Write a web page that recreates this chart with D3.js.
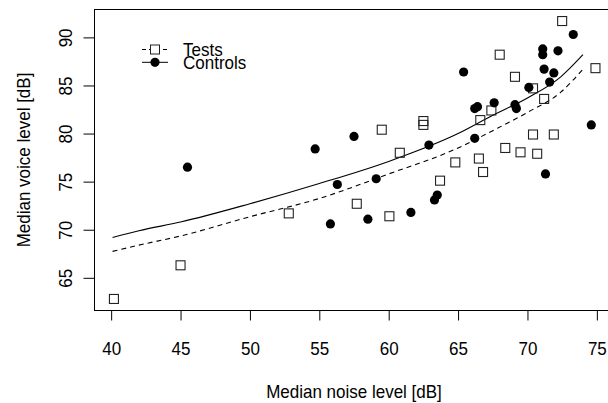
<html><head><meta charset="UTF-8">
<style>
  body { margin: 0; background: white; font-family: "Liberation Sans", Arial, Helvetica, sans-serif; }
  svg { display: block; }
  text { font-family: "Liberation Sans", Arial, Helvetica, sans-serif; fill: black; }
</style>
</head>
<body>
<svg id="chart"></svg>
<script src="https://cdn.jsdelivr.net/npm/d3@7"></script>
<script>
  // data
  var testsNoise = [40.2, 45.0, 52.8, 60.05, 57.7, 59.5, 62.5, 62.5, 60.8, 64.8, 63.7, 66.6, 67.4,
                    71.2, 70.4, 69.1, 68.0, 72.5, 74.9, 70.4, 71.9, 68.4, 69.5, 70.7, 66.5, 66.8];
  var testsVoice = [62.8, 66.3, 71.7, 71.4, 72.7, 80.4, 81.3, 80.9, 78.0, 77.0, 75.1, 81.4, 82.4,
                    83.6, 84.7, 85.9, 88.2, 91.7, 86.8, 79.9, 79.9, 78.5, 78.05, 77.9, 77.4, 76.0];

  var controlsNoise = [45.5, 54.7, 55.8, 57.5, 56.3, 59.1, 62.9, 58.5, 61.6, 63.3, 63.5, 65.4, 66.2, 66.4,
                       67.6, 66.2, 69.1, 69.2, 70.1, 71.1, 71.1, 72.2, 73.3, 71.2, 71.9, 71.6, 74.6, 71.3];
  var controlsVoice = [76.5, 78.4, 70.6, 79.7, 74.7, 75.3, 78.8, 71.1, 71.8, 73.1, 73.6, 86.4, 82.6, 82.8,
                       83.2, 79.5, 83.0, 82.6, 84.8, 88.8, 88.2, 88.6, 90.3, 86.7, 86.3, 85.35, 80.9, 75.8];

  // fitted curves
  var fitNoise    = [40.1, 42, 45, 50, 55, 60, 65, 67.5, 70, 72.4, 74];
  var fitControls = [69.2, 69.9, 70.8, 72.7, 74.8, 77.1, 80.0, 81.9, 83.7, 85.9, 88.2];
  var fitTests    = [67.75, 68.4, 69.35, 71.35, 73.25, 75.8, 78.5, 80.3, 82.2, 84.3, 86.7];

  var xTicks = [40, 45, 50, 55, 60, 65, 70, 75];
  var yTicks = [65, 70, 75, 80, 85, 90];
  var legendLabels = ["Tests", "Controls"];

  var width = 608, height = 403;
  var plot = {left: 94.5, top: 9.5, right: 613.5, bottom: 310.5};
  var stretch = "scale(1,1.1)"; // glyphs in the reference are a bit taller

  var svg = d3.select("#chart").attr("width", width).attr("height", height);

  var xScale = d3.scaleLinear().domain([38.8, 76.2]).range([plot.left, plot.right]);
  var yScale = d3.scaleLinear().domain([61.6, 92.9]).range([plot.bottom, plot.top]);

  // box
  svg.append("rect")
    .attr("x", plot.left).attr("y", plot.top)
    .attr("width", plot.right - plot.left).attr("height", plot.bottom - plot.top)
    .attr("fill", "none").attr("stroke", "black").attr("stroke-width", 1);

  // axes
  var xAxis = d3.axisBottom(xScale).tickValues(xTicks).tickSize(10);
  var gx = svg.append("g").attr("transform", "translate(0," + plot.bottom + ")").call(xAxis);
  gx.select(".domain").attr("d", "M" + xScale(40) + ",0H" + xScale(75));
  gx.selectAll("text")
    .attr("font-size", 17).attr("font-family", "Liberation Sans, Arial, sans-serif")
    .attr("y", null).attr("dy", null)
    .attr("transform", "translate(0,44.5) " + stretch);

  var yAxis = d3.axisLeft(yScale).tickValues(yTicks).tickSize(11);
  var gy = svg.append("g").attr("transform", "translate(" + plot.left + ",0)").call(yAxis);
  gy.select(".domain").attr("d", "M0," + yScale(65) + "V" + yScale(90));
  gy.selectAll("text")
    .attr("font-size", 17).attr("font-family", "Liberation Sans, Arial, sans-serif")
    .attr("x", null).attr("dy", null)
    .attr("text-anchor", "middle")
    .attr("transform", "translate(-23,0) rotate(-90) " + stretch);

  // axis titles
  svg.append("text")
    .attr("transform", "translate(" + (plot.left + plot.right) / 2 + ",397.5) " + stretch)
    .attr("text-anchor", "middle").attr("font-size", 17)
    .text("Median noise level [dB]");
  svg.append("text")
    .attr("transform", "translate(30," + (plot.top + plot.bottom) / 2 + ") rotate(-90) " + stretch)
    .attr("text-anchor", "middle").attr("font-size", 17)
    .text("Median voice level [dB]");

  // fitted lines
  var line = function (ys) {
    return d3.line()
      .x(function (d, i) { return xScale(fitNoise[i]); })
      .y(function (d) { return yScale(d); })
      .curve(d3.curveMonotoneX)(ys);
  };
  svg.append("path").attr("d", line(fitControls))
    .attr("fill", "none").attr("stroke", "black").attr("stroke-width", 1.1);
  svg.append("path").attr("d", line(fitTests))
    .attr("fill", "none").attr("stroke", "black").attr("stroke-width", 1.1)
    .attr("stroke-dasharray", "5,4");

  // points
  var s = 9;
  svg.append("g").selectAll("rect")
    .data(testsNoise)
    .enter().append("rect")
    .attr("x", function (d) { return xScale(d) - s / 2; })
    .attr("y", function (d, i) { return yScale(testsVoice[i]) - s / 2; })
    .attr("width", s).attr("height", s)
    .attr("fill", "none").attr("stroke", "#222").attr("stroke-width", 1.1);

  svg.append("g").selectAll("circle")
    .data(controlsNoise)
    .enter().append("circle")
    .attr("cx", function (d) { return xScale(d); })
    .attr("cy", function (d, i) { return yScale(controlsVoice[i]); })
    .attr("r", 4.6)
    .attr("fill", "black");

  // legend
  var legend = svg.append("g");
  var rowY = [49.5, 62.3];
  legend.append("line").attr("x1", 142).attr("x2", 168).attr("y1", rowY[0]).attr("y2", rowY[0])
    .attr("stroke", "black").attr("stroke-dasharray", "4,3");
  legend.append("rect").attr("x", 155 - s / 2).attr("y", rowY[0] - s / 2).attr("width", s).attr("height", s)
    .attr("fill", "white").attr("stroke", "#222");
  legend.append("line").attr("x1", 142).attr("x2", 168).attr("y1", rowY[1]).attr("y2", rowY[1])
    .attr("stroke", "black");
  legend.append("circle").attr("cx", 155).attr("cy", rowY[1]).attr("r", 4.6).attr("fill", "black");
  legend.selectAll("text")
    .data(legendLabels)
    .enter().append("text")
    .attr("transform", function (d, i) { return "translate(183," + (rowY[i] + 6.8) + ") " + stretch; })
    .attr("font-size", 17)
    .text(function (d) { return d; });
</script>
</body></html>
